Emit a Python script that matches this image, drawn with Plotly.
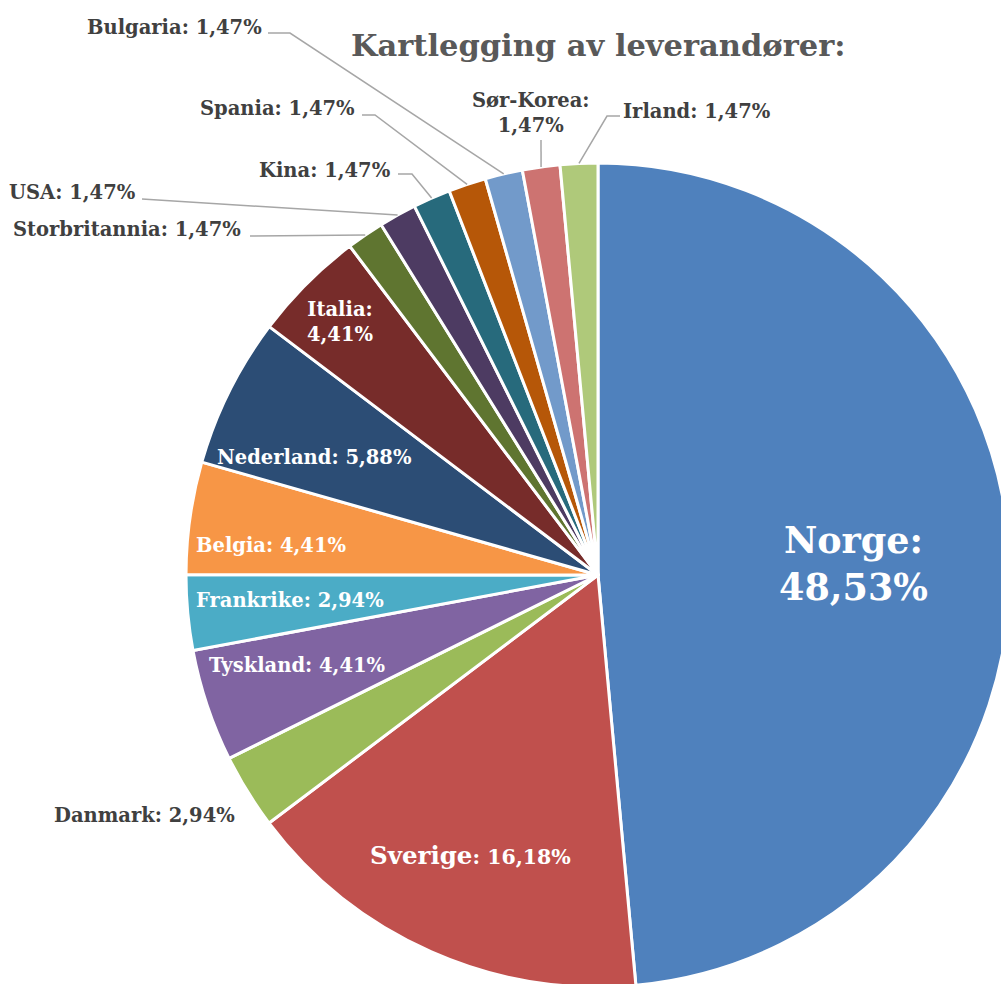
import math
import plotly.graph_objects as go

# ---------------- data ----------------
countries = ["Norge", "Sverige", "Danmark", "Tyskland", "Frankrike", "Belgia",
             "Nederland", "Italia", "Storbritannia", "USA", "Kina", "Spania",
             "Bulgaria", "Sør-Korea", "Irland"]
shares = [48.53, 16.18, 2.94, 4.41, 2.94, 4.41, 5.88, 4.41,
          1.47, 1.47, 1.47, 1.47, 1.47, 1.47, 1.47]
pct_labels = ["48,53%", "16,18%", "2,94%", "4,41%", "2,94%", "4,41%", "5,88%", "4,41%",
              "1,47%", "1,47%", "1,47%", "1,47%", "1,47%", "1,47%", "1,47%"]
title_text = "Kartlegging av leverandører:"

# ---------------- style / layout ----------------
colors = ["#4F81BD", "#C0504D", "#9BBB59", "#8064A2", "#4BACC6", "#F79646",
          "#2C4D75", "#772C2A", "#5F7530", "#4D3B62", "#276A7C", "#B65708",
          "#729ACA", "#CD7371", "#AFC97A"]

W, H = 1012, 988          # canvas slightly larger than the window -> pie cropped like the reference
CX, CY, R = 598, 575, 412  # pie centre and radius in pixels
FONT = "DejaVu Serif"
DARK = "#404040"
LINE = "#A6A6A6"
LS = 19.5                  # label font size


def px(x):
    return x / W


def py(y):
    return 1 - y / H


def edge_point(i):
    """Outer-edge point at the middle angle of slice i (clockwise from 12 o'clock)."""
    total = sum(shares)
    before = sum(shares[:i])
    frac = (before + shares[i] / 2) / total
    ang = 2 * math.pi * frac
    return CX + R * math.sin(ang), CY - R * math.cos(ang)


fig = go.Figure()
fig.add_trace(go.Pie(
    labels=countries,
    values=shares,
    sort=False,
    direction="clockwise",
    rotation=0,
    textinfo="none",
    hoverinfo="label+percent",
    marker=dict(colors=colors, line=dict(color="white", width=3)),
    domain=dict(x=[px(CX - R), px(CX + R)], y=[py(CY + R), py(CY - R)]),
    showlegend=False,
))

annotations = []


def add_text(text, x, y, size, color, anchor="center"):
    annotations.append(dict(
        text=text, x=px(x), y=py(y), xref="paper", yref="paper",
        xanchor=anchor, yanchor="middle", showarrow=False,
        font=dict(family=FONT, size=size, color=color),
    ))


# title
add_text("<b>" + title_text + "</b>", 598, 45, 30.5, "#595959")

# label placement (pixel centres) for each slice
label_pos = {
    "Norge": (853, 564, 36.5, "white", True),
    "Sverige": None,
    "Danmark": (144, 815, LS, DARK, False),
    "Tyskland": (297, 665, LS, "white", False),
    "Frankrike": (290, 600, LS, "white", False),
    "Belgia": (271, 545, LS, "white", False),
    "Nederland": (314, 457, LS, "white", False),
    "Italia": (340, 322, LS, "white", True),
    "Storbritannia": (127, 229, LS, DARK, False),
    "USA": (72, 192, LS, DARK, False),
    "Kina": (325, 170, LS, DARK, False),
    "Spania": (277, 108, LS, DARK, False),
    "Bulgaria": (174, 27, LS, DARK, False),
    "Sør-Korea": (531, 113, LS, DARK, True),
    "Irland": (697, 111, LS, DARK, False),
}

for name, pct in zip(countries, pct_labels):
    spec = label_pos[name]
    if spec is None:
        continue
    x, y, size, color, two_lines = spec
    sep = ":<br>" if two_lines else ": "
    add_text("<b>" + name + sep + pct + "</b>", x, y, size, color)

# Sverige: larger name, smaller value
i_sv = countries.index("Sverige")
add_text("<b><span style='font-size:24.5px'>" + countries[i_sv] + "</span>: "
         + pct_labels[i_sv] + "</b>", 470, 855, 20.5, "white")

# leader lines: elbow points from label, ending at slice edge midpoint
leader_elbows = {
    "Bulgaria": [(268, 33), (290, 33)],
    "Spania": [(362, 115), (375, 115)],
    "Kina": [(398, 174), (412, 174)],
    "USA": [(142, 199)],
    "Storbritannia": [(250, 236)],
    "Sør-Korea": [(541, 140)],
    "Irland": [(620, 116), (607, 116)],
}

shapes = []
for name, pts in leader_elbows.items():
    ex, ey = edge_point(countries.index(name))
    allpts = pts + [(ex, ey)]
    path = "M " + " L ".join(f"{px(a):.5f},{py(b):.5f}" for a, b in allpts)
    shapes.append(dict(type="path", path=path, xref="paper", yref="paper",
                       line=dict(color=LINE, width=1.5)))

fig.update_layout(
    width=W, height=H,
    margin=dict(l=0, r=0, t=0, b=0),
    paper_bgcolor="white",
    plot_bgcolor="white",
    annotations=annotations,
    shapes=shapes,
)

fig.write_html(
    "out.html",
    config={"displayModeBar": False},
    post_script="document.body.style.margin='0';"
                "document.body.style.overflow='hidden';"
                "document.documentElement.style.overflow='hidden';",
)
